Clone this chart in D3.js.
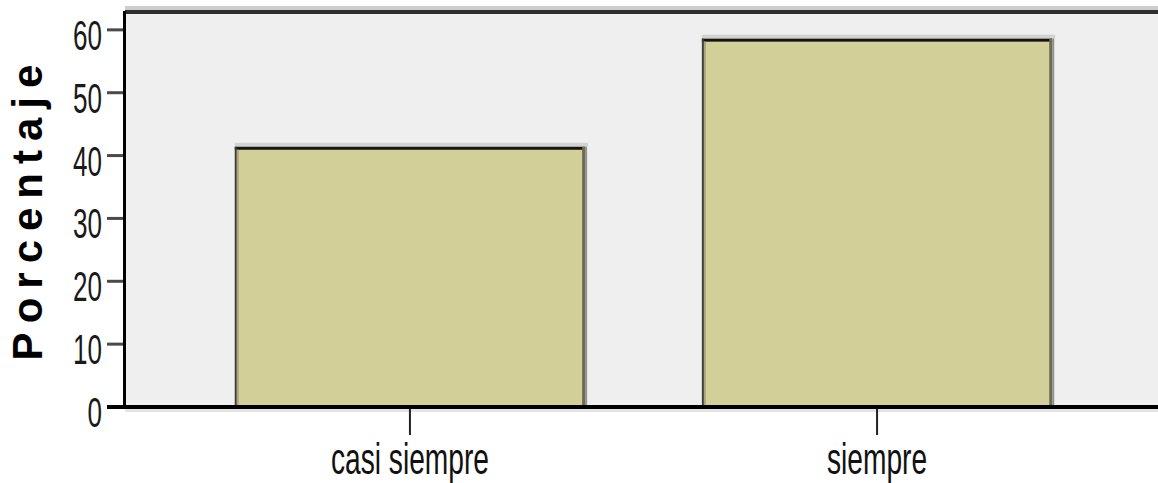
<!DOCTYPE html>
<meta charset="utf-8">
<body style="margin:0;background:#fff">
<div id="chart"></div>
<script src="https://d3js.org/d3.v7.min.js"></script>
<script>
var categories = ["casi siempre", "siempre"];
var values = [41.4, 58.6];
var yTicks = [0, 10, 20, 30, 40, 50, 60];
var yTitle = "Porcentaje";

var width = 1158, height = 483;
var plotLeft = 125, plotRight = 1162, plotTop = 11, plotBottom = 407;

var svg = d3.select("#chart").append("svg")
    .attr("width", width)
    .attr("height", height)
    .style("display", "block");

var x = d3.scaleBand()
    .domain(categories)
    .range([plotLeft, plotRight])
    .paddingInner(0.25)
    .paddingOuter(0.235);

var y = d3.scaleLinear()
    .domain([0, 63])
    .range([plotBottom, plotTop]);

// plot background + frame
svg.append("rect")
    .attr("x", plotLeft).attr("y", plotTop)
    .attr("width", width - plotLeft).attr("height", plotBottom - plotTop)
    .attr("fill", "#efefef");
svg.append("rect")
    .attr("x", plotLeft).attr("y", 6)
    .attr("width", width - plotLeft).attr("height", 4)
    .attr("fill", "#cdcdcd");
svg.append("rect")
    .attr("x", plotLeft).attr("y", 10)
    .attr("width", width - plotLeft).attr("height", 4)
    .attr("fill", "#2e2e2e");

// bars
var bars = svg.selectAll("g.bar")
    .data(values)
    .enter().append("g")
    .attr("class", "bar");

bars.append("rect")
    .attr("x", function(d, i) { return x(categories[i]); })
    .attr("y", function(d) { return y(d); })
    .attr("width", x.bandwidth())
    .attr("height", function(d) { return plotBottom - y(d); })
    .attr("fill", "#d3cf98");
// shadow above top edge
bars.append("rect")
    .attr("x", function(d, i) { return x(categories[i]); })
    .attr("y", function(d) { return y(d) - 4; })
    .attr("width", x.bandwidth() + 3)
    .attr("height", 4)
    .attr("fill", "#d2d2d2");
// top edge
bars.append("rect")
    .attr("x", function(d, i) { return x(categories[i]); })
    .attr("y", function(d) { return y(d); })
    .attr("width", x.bandwidth())
    .attr("height", 3)
    .attr("fill", "#141414");
// left edge
bars.append("rect")
    .attr("x", function(d, i) { return x(categories[i]); })
    .attr("y", function(d) { return y(d); })
    .attr("width", 2)
    .attr("height", function(d) { return plotBottom - y(d); })
    .attr("fill", "#3c3c3c");
bars.append("rect")
    .attr("x", function(d, i) { return x(categories[i]) + 2; })
    .attr("y", function(d) { return y(d) + 3; })
    .attr("width", 2)
    .attr("height", function(d) { return plotBottom - y(d) - 3; })
    .attr("fill", "#a9a67e");
// right edge
bars.append("rect")
    .attr("x", function(d, i) { return x(categories[i]) + x.bandwidth() - 3; })
    .attr("y", function(d) { return y(d); })
    .attr("width", 3)
    .attr("height", function(d) { return plotBottom - y(d); })
    .attr("fill", "#6d6b54");
bars.append("rect")
    .attr("x", function(d, i) { return x(categories[i]) + x.bandwidth(); })
    .attr("y", function(d) { return y(d); })
    .attr("width", 2)
    .attr("height", function(d) { return plotBottom - y(d); })
    .attr("fill", "#8f8f8f");

// y axis
var yAxis = svg.append("g");
yAxis.selectAll("rect.tick")
    .data(yTicks)
    .enter().append("rect")
    .attr("class", "tick")
    .attr("x", 107).attr("width", 17)
    .attr("y", function(d) { return y(d) - 1.5; })
    .attr("height", 3)
    .attr("fill", function(d) { return d === 0 ? "#111" : "#4a4a4a"; });
yAxis.selectAll("text")
    .data(yTicks)
    .enter().append("text")
    .attr("transform", function(d) { return "translate(102," + (y(d) + 20) + ") scale(0.62,1)"; })
    .attr("text-anchor", "end")
    .style("font-family", "'Liberation Sans', Arial, sans-serif")
    .style("font-size", "42px")
    .attr("fill", "#1a1a1a")
    .text(function(d) { return d; });
svg.append("rect")
    .attr("x", 123).attr("y", plotTop)
    .attr("width", 3).attr("height", plotBottom - plotTop + 2)
    .attr("fill", "#000");

// x axis
svg.append("rect")
    .attr("x", plotLeft).attr("y", 409)
    .attr("width", width - plotLeft).attr("height", 3)
    .attr("fill", "#e4e4e4");
svg.append("rect")
    .attr("x", 107).attr("y", 405)
    .attr("width", width - 107).attr("height", 4)
    .attr("fill", "#000");
var xAxis = svg.append("g");
xAxis.selectAll("rect")
    .data(categories)
    .enter().append("rect")
    .attr("x", function(d) { return x(d) + x.bandwidth() / 2 - 1; })
    .attr("y", 409).attr("width", 2).attr("height", 26)
    .attr("fill", "#222");
xAxis.selectAll("text")
    .data(categories)
    .enter().append("text")
    .attr("transform", function(d) { return "translate(" + (x(d) + x.bandwidth() / 2) + ",474) scale(0.64,1)"; })
    .attr("text-anchor", "middle")
    .style("font-family", "'Liberation Sans', Arial, sans-serif")
    .style("font-size", "44px")
    .attr("fill", "#111")
    .text(function(d) { return d; });

// y title
svg.append("text")
    .attr("transform", "translate(42,208) rotate(-90)")
    .attr("text-anchor", "middle")
    .style("font-family", "'Liberation Sans', Arial, sans-serif")
    .style("font-size", "42px")
    .style("font-weight", "bold")
    .style("letter-spacing", "9px")
    .attr("fill", "#000")
    .text(yTitle);
</script>
</body>
